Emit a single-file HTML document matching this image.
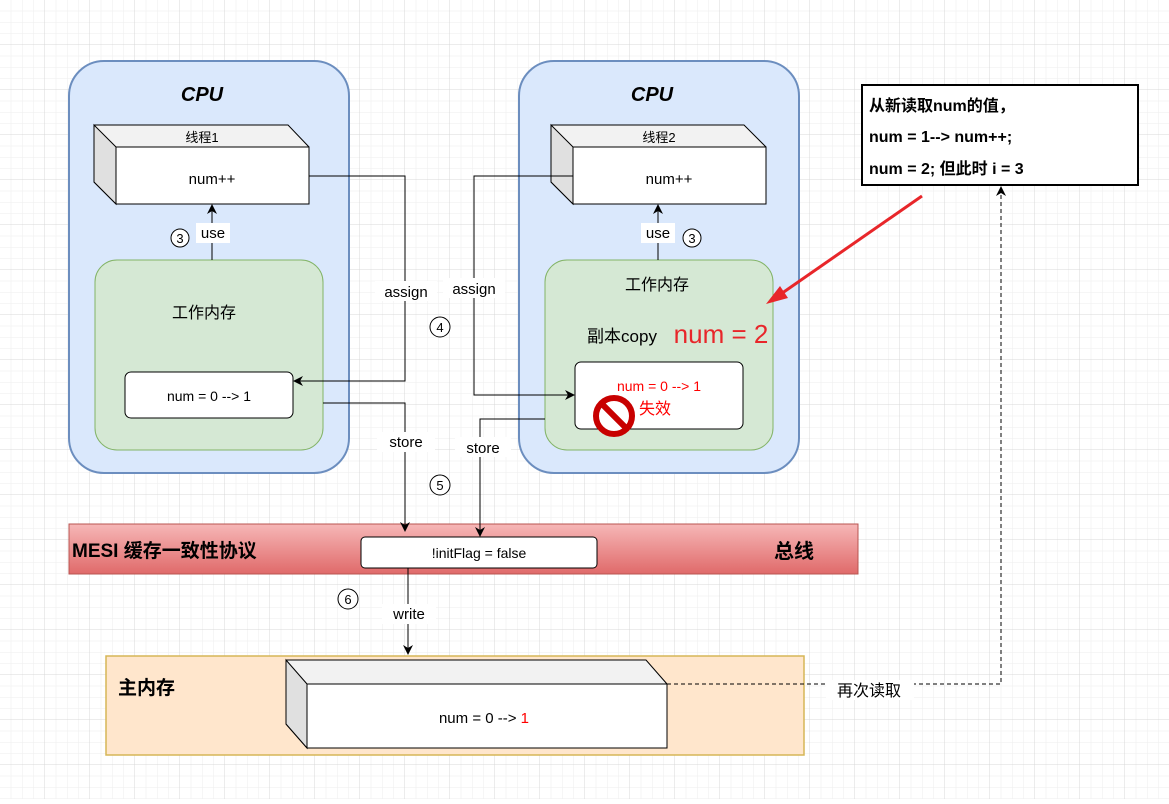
<!DOCTYPE html>
<html><head><meta charset="utf-8"><style>
html,body{margin:0;padding:0}
body{width:1169px;height:799px;overflow:hidden;background:#fff;font-family:"Liberation Sans","Noto Sans CJK SC",sans-serif}
svg text{font-family:"Liberation Sans","Noto Sans CJK SC",sans-serif}
</style></head><body>
<svg width="1169" height="799" viewBox="0 0 1169 799" xmlns="http://www.w3.org/2000/svg">
<defs>
<pattern id="minor" width="11.25" height="11.25" patternUnits="userSpaceOnUse"><path d="M11.25 0V11.25H0" fill="none" stroke="#ededed" stroke-width="1"/></pattern>
<pattern id="major" width="45" height="45" patternUnits="userSpaceOnUse"><rect width="45" height="45" fill="url(#minor)"/><path d="M45 0V45H0" fill="none" stroke="#d8d8d8" stroke-width="1"/></pattern>
<marker id="ar" viewBox="0 0 10 10" refX="9" refY="5" markerWidth="10" markerHeight="10" markerUnits="userSpaceOnUse" orient="auto"><path d="M0 0L10 5L0 10L3 5z" fill="#000"/></marker>
<linearGradient id="red" x1="0" y1="0" x2="0" y2="1"><stop offset="0" stop-color="#f6b7b7"/><stop offset="1" stop-color="#e06a6a"/></linearGradient>
</defs>
<rect width="1169" height="799" fill="url(#major)"/>

<!-- CPU boxes -->
<rect x="69" y="61" width="280" height="412" rx="35" fill="#dae8fc" stroke="#6c8ebf" stroke-width="2"/>
<rect x="519" y="61" width="280" height="412" rx="35" fill="#dae8fc" stroke="#6c8ebf" stroke-width="2"/>
<text x="202" y="101" font-size="20" font-weight="bold" text-anchor="middle" font-style="italic">CPU</text>
<text x="652" y="101" font-size="20" font-weight="bold" text-anchor="middle" font-style="italic">CPU</text>

<polygon points="94,125 288,125 309,147 309,204 116,204 94,182" fill="#f2f2f2" stroke="#000"/>
<polygon points="94,125 116,147 116,204 94,182" fill="#e0e0e0" stroke="#000"/>
<rect x="116" y="147" width="193" height="57" fill="#fff" stroke="#000"/>
<text x="202" y="142" font-size="13" text-anchor="middle">线程1</text>
<text x="212" y="184" font-size="15" text-anchor="middle">num++</text>

<polygon points="551,125 744,125 766,147 766,204 573,204 551,182" fill="#f2f2f2" stroke="#000"/>
<polygon points="551,125 573,147 573,204 551,182" fill="#e0e0e0" stroke="#000"/>
<rect x="573" y="147" width="193" height="57" fill="#fff" stroke="#000"/>
<text x="659" y="142" font-size="13" text-anchor="middle">线程2</text>
<text x="669" y="184" font-size="15" text-anchor="middle">num++</text>

<rect x="95" y="260" width="228" height="190" rx="22" fill="#d5e8d4" stroke="#82b366"/>
<rect x="545" y="260" width="228" height="190" rx="22" fill="#d5e8d4" stroke="#82b366"/>
<text x="204" y="318" font-size="16" text-anchor="middle">工作内存</text>
<text x="657" y="290" font-size="16" text-anchor="middle">工作内存</text>
<text x="622" y="342" font-size="17" text-anchor="middle">副本copy</text>
<text x="721" y="343" font-size="26" fill="#e8262a" text-anchor="middle">num = 2</text>

<rect x="125" y="372" width="168" height="46" rx="6" fill="#fff" stroke="#000"/>
<text x="209" y="401" font-size="14" text-anchor="middle">num = 0 --&gt; 1</text>
<rect x="575" y="362" width="168" height="67" rx="6" fill="#fff" stroke="#000"/>
<text x="659" y="391" font-size="14" fill="#ff0000" text-anchor="middle">num = 0 --&gt; 1</text>
<text x="655" y="414" font-size="16" fill="#ff0000" text-anchor="middle">失效</text>

<!-- MESI bar -->
<rect x="69" y="524" width="789" height="50" fill="url(#red)" stroke="#b85450"/>
<text x="72" y="557" font-size="19" font-weight="bold">MESI 缓存一致性协议</text>
<text x="794" y="558" font-size="20" font-weight="bold" text-anchor="middle">总线</text>
<rect x="361" y="537" width="236" height="31" rx="4" fill="#fff" stroke="#000"/>
<text x="479" y="558" font-size="14" text-anchor="middle">!initFlag = false</text>

<!-- use arrows -->
<line x1="212" y1="260" x2="212" y2="205" stroke="#000" marker-end="url(#ar)"/>
<rect x="196" y="223" width="34" height="20" fill="#fff"/>
<text x="213" y="238" font-size="15" text-anchor="middle">use</text>
<circle cx="180" cy="238" r="9" fill="#fff" stroke="#000"/><text x="180" y="243" font-size="13" text-anchor="middle">3</text>
<line x1="658" y1="260" x2="658" y2="205" stroke="#000" marker-end="url(#ar)"/>
<rect x="641" y="223" width="34" height="20" fill="#fff"/>
<text x="658" y="238" font-size="15" text-anchor="middle">use</text>
<circle cx="692" cy="238" r="9" fill="#fff" stroke="#000"/><text x="692" y="243" font-size="13" text-anchor="middle">3</text>

<!-- assign -->
<path d="M309 176H405V381H294" fill="none" stroke="#000" marker-end="url(#ar)"/>
<rect x="375" y="281" width="62" height="20" fill="#fff"/>
<text x="406" y="297" font-size="15" text-anchor="middle">assign</text>
<path d="M573 176H474V395H574" fill="none" stroke="#000" marker-end="url(#ar)"/>
<rect x="443" y="278" width="62" height="20" fill="#fff"/>
<text x="474" y="294" font-size="15" text-anchor="middle">assign</text>
<circle cx="440" cy="327" r="10" fill="#fff" stroke="#000"/><text x="440" y="332" font-size="13" text-anchor="middle">4</text>

<!-- store -->
<path d="M323 403H405V531" fill="none" stroke="#000" marker-end="url(#ar)"/>
<rect x="377" y="432" width="58" height="20" fill="#fff"/>
<text x="406" y="447" font-size="15" text-anchor="middle">store</text>
<path d="M545 419H480V536" fill="none" stroke="#000" marker-end="url(#ar)"/>
<rect x="455" y="437" width="56" height="20" fill="#fff"/>
<text x="483" y="453" font-size="15" text-anchor="middle">store</text>
<circle cx="440" cy="485" r="10" fill="#fff" stroke="#000"/><text x="440" y="490" font-size="13" text-anchor="middle">5</text>

<!-- forbidden icon -->
<circle cx="614" cy="416" r="18" fill="#fff" stroke="#c80000" stroke-width="6"/>
<line x1="602" y1="404" x2="626" y2="428" stroke="#c80000" stroke-width="6"/>

<!-- write -->
<line x1="408" y1="568" x2="408" y2="654" stroke="#000" marker-end="url(#ar)"/>
<rect x="382" y="604" width="54" height="20" fill="#fff"/>
<text x="409" y="619" font-size="15" text-anchor="middle">write</text>
<circle cx="348" cy="599" r="10" fill="#fff" stroke="#000"/><text x="348" y="604" font-size="13" text-anchor="middle">6</text>

<!-- main memory -->
<rect x="106" y="656" width="698" height="99" fill="#ffe6cc" stroke="#d6b656" stroke-width="1.5"/>
<text x="118" y="694" font-size="19" font-weight="bold">主内存</text>
<polygon points="286,660 646,660 667,684 667,748 307,748 286,724" fill="#f2f2f2" stroke="#000"/>
<polygon points="286,660 307,684 307,748 286,724" fill="#e0e0e0" stroke="#000"/>
<rect x="307" y="684" width="360" height="64" fill="#fff" stroke="#000"/>
<text x="484" y="723" font-size="15" text-anchor="middle">num = 0 --&gt; <tspan fill="#ff0000">1</tspan></text>

<path d="M667 684H1001V187" fill="none" stroke="#000" stroke-dasharray="4 3" marker-end="url(#ar)"/>
<rect x="826" y="680" width="88" height="20" fill="#fff"/>
<text x="869" y="696" font-size="16" text-anchor="middle">再次读取</text>

<rect x="862" y="85" width="276" height="100" fill="#fff" stroke="#000" stroke-width="2"/>
<text x="869" y="111" font-size="16" font-weight="bold">从新读取num的值，</text>
<text x="869" y="142" font-size="16" font-weight="bold">num = 1--&gt; num++;</text>
<text x="869" y="174" font-size="16" font-weight="bold">num = 2; 但此时 i = 3</text>

<line x1="922" y1="196" x2="778" y2="296" stroke="#e8262a" stroke-width="3"/>
<polygon points="766,304 780,286 788,298" fill="#e8262a"/>
</svg>
</body></html>
